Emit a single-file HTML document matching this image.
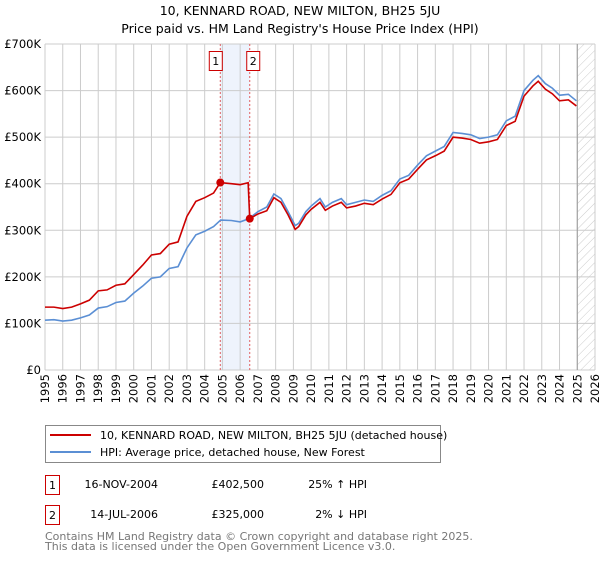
<!DOCTYPE html>
<html><head><meta charset="utf-8">
<style>
body{margin:0;background:#fff;font-family:"DejaVu Sans","Liberation Sans",sans-serif;}
svg text{font-family:"DejaVu Sans","Liberation Sans",sans-serif;}
</style></head>
<body>
<svg id="chart" width="600" height="560" xmlns="http://www.w3.org/2000/svg">
<defs>
<pattern id="hatch" width="6" height="6" patternUnits="userSpaceOnUse" patternTransform="rotate(45)">
<line x1="0" y1="0" x2="0" y2="6" stroke="#ccc" stroke-width="1"/>
</pattern>
</defs>
<text x="300" y="15" text-anchor="middle" font-size="12.5" fill="#000">10, KENNARD ROAD, NEW MILTON, BH25 5JU</text>
<text x="300" y="33" text-anchor="middle" font-size="12.5" fill="#000">Price paid vs. HM Land Registry's House Price Index (HPI)</text>
<g id="grid"></g>
<g id="marks"></g>
<g id="axes"></g>
<rect x="45.5" y="425.5" width="395" height="37" fill="#fff" stroke="#888"/>
<line x1="50" y1="435" x2="91" y2="435" stroke="#cc0000" stroke-width="2"/>
<text x="100" y="439" font-size="11">10, KENNARD ROAD, NEW MILTON, BH25 5JU (detached house)</text>
<line x1="50" y1="452" x2="91" y2="452" stroke="#5b8fd4" stroke-width="2"/>
<text x="100" y="456" font-size="11">HPI: Average price, detached house, New Forest</text>
<g font-size="11">
<rect x="45.5" y="475.5" width="14" height="19" fill="#fff" stroke="#cc0000"/>
<text x="52.5" y="489" text-anchor="middle">1</text>
<text x="158" y="488" text-anchor="end">16-NOV-2004</text>
<text x="264" y="488" text-anchor="end">£402,500</text>
<text x="367" y="488" text-anchor="end">25% ↑ HPI</text>
</g>
<g font-size="11">
<rect x="45.5" y="505.5" width="14" height="19" fill="#fff" stroke="#cc0000"/>
<text x="52.5" y="519" text-anchor="middle">2</text>
<text x="158" y="518" text-anchor="end">14-JUL-2006</text>
<text x="264" y="518" text-anchor="end">£325,000</text>
<text x="367" y="518" text-anchor="end">2% ↓ HPI</text>
</g>
<text x="45" y="540" font-size="11" fill="#777">Contains HM Land Registry data © Crown copyright and database right 2025.</text>
<text x="45" y="550" font-size="11" fill="#777">This data is licensed under the Open Government Licence v3.0.</text>
</svg>
<script>
const yearTicks=[1995,1996,1997,1998,1999,2000,2001,2002,2003,2004,2005,2006,2007,2008,2009,2010,2011,2012,2013,2014,2015,2016,2017,2018,2019,2020,2021,2022,2023,2024,2025,2026];
const priceTicks=[0,100000,200000,300000,400000,500000,600000,700000];
const priceTickLabels=["£0","£100K","£200K","£300K","£400K","£500K","£600K","£700K"];
const hpiDates=[1995,1995.5,1996,1996.5,1997,1997.5,1998,1998.5,1999,1999.5,2000,2000.5,2001,2001.5,2002,2002.5,2003,2003.5,2004,2004.5,2004.9,2005.5,2006,2006.5,2007,2007.5,2007.9,2008.3,2008.7,2009.1,2009.3,2009.7,2010,2010.5,2010.8,2011.2,2011.7,2012,2012.5,2013,2013.5,2014,2014.5,2015,2015.5,2016,2016.5,2017,2017.5,2018,2018.5,2019,2019.5,2020,2020.5,2021,2021.5,2022,2022.5,2022.8,2023.2,2023.6,2024,2024.5,2024.95];
const hpiValues=[107,108,105,107,112,118,133,136,145,148,165,180,197,200,218,222,262,290,298,308,322,321,318,325,340,350,378,368,340,310,315,340,352,368,350,360,368,355,360,365,362,375,385,410,418,440,460,470,480,510,508,505,497,500,505,535,545,600,622,632,615,605,590,592,578];
const propDates=[1995,1995.5,1996,1996.5,1997,1997.5,1998,1998.5,1999,1999.5,2000,2000.5,2001,2001.5,2002,2002.5,2003,2003.5,2004,2004.5,2004.88,2005.5,2006,2006.45,2006.54,2007,2007.5,2007.9,2008.3,2008.7,2009.1,2009.3,2009.7,2010,2010.5,2010.8,2011.2,2011.7,2012,2012.5,2013,2013.5,2014,2014.5,2015,2015.5,2016,2016.5,2017,2017.5,2018,2018.5,2019,2019.5,2020,2020.5,2021,2021.5,2022,2022.5,2022.8,2023.2,2023.6,2024,2024.5,2024.95];
const propValues=[135,135,132,135,142,150,170,172,182,185,205,225,247,250,270,275,330,362,370,380,402.5,400,398,402,325,335,342,370,360,333,302,308,333,345,360,343,352,360,348,352,358,355,367,377,402,410,431,451,460,470,500,498,495,487,490,495,525,534,588,610,620,603,593,578,580,567];
const sales=[{label:"1",date:2004.88,value:402.5},{label:"2",date:2006.54,value:325}];
const ns="http://www.w3.org/2000/svg";
const X0=45,X1=595,Y0=370,Y1=44;
const xs=t=>X0+(t-1995)/(2026-1995)*(X1-X0);
const ys=v=>Y0-v/700000*(Y0-Y1);
const yk=v=>ys(v*1000);
function mk(tag,attrs,parent){const e=document.createElementNS(ns,tag);for(const k in attrs)e.setAttribute(k,attrs[k]);parent.appendChild(e);return e;}
const grid=document.getElementById('grid'),marks=document.getElementById('marks'),axes=document.getElementById('axes');
// sale shading
const sh=mk('rect',{x:xs(sales[0].date),y:Y1,width:xs(sales[1].date)-xs(sales[0].date),height:Y0-Y1,fill:'#eef3fc'},grid);


// hatch future
const ht=mk('rect',{x:xs(2025),y:Y1,width:X1-xs(2025),height:Y0-Y1,fill:'url(#hatch)'},grid);


yearTicks.forEach(t=>{
  const x=xs(t);
  const l=mk('line',{x1:x,y1:Y1,x2:x,y2:Y0,stroke:'#cccccc','stroke-width':1},grid);
  
  
  const tx=mk('text',{x:0,y:0,'font-size':11.5,'text-anchor':'end',transform:`translate(${x+4},${Y0+4}) rotate(-90)`},axes);
  tx.textContent=t;
  
  
});
priceTicks.forEach((v,i)=>{
  const y=ys(v);
  const l=mk('line',{x1:X0,y1:y,x2:X1,y2:y,stroke:'#cccccc','stroke-width':1},grid);
  
  
  const tx=mk('text',{x:X0-4,y:y+4,'font-size':11.5,'text-anchor':'end'},axes);
  tx.textContent=priceTickLabels[i];
  
  
});
const now=mk('line',{x1:xs(2025),y1:Y1,x2:xs(2025),y2:Y0,stroke:'#999','stroke-width':1},grid);


sales.forEach(s=>{
  const x=xs(s.date);
  const l=mk('line',{x1:x,y1:Y1,x2:x,y2:Y0,stroke:'#e06060','stroke-width':1,'stroke-dasharray':'2,2'},grid);
  
  
  const r=mk('rect',{x:x-14.5,y:51.5,width:13,height:19,fill:'#fff',stroke:'#cc0000'},grid);
  r.setAttribute('x',s.label==='1'?x-11:x-3);
  
  
  const t=mk('text',{x:(s.label==='1'?x-11:x-3)+6.5,y:65,'font-size':11,'text-anchor':'middle'},grid);
  t.textContent=s.label;
  
  
});
const hp=mk('polyline',{points:hpiDates.map((d,i)=>xs(d)+','+yk(hpiValues[i])).join(' '),fill:'none',stroke:'#5b8fd4','stroke-width':1.6},marks);


const pp=mk('polyline',{points:propDates.map((d,i)=>xs(d)+','+yk(propValues[i])).join(' '),fill:'none',stroke:'#cc0000','stroke-width':1.6},marks);


sales.forEach(s=>{
  const c=mk('circle',{cx:xs(s.date),cy:yk(s.value),r:4,fill:'#cc0000'},marks);
  
  
});
</script>
</body></html>
